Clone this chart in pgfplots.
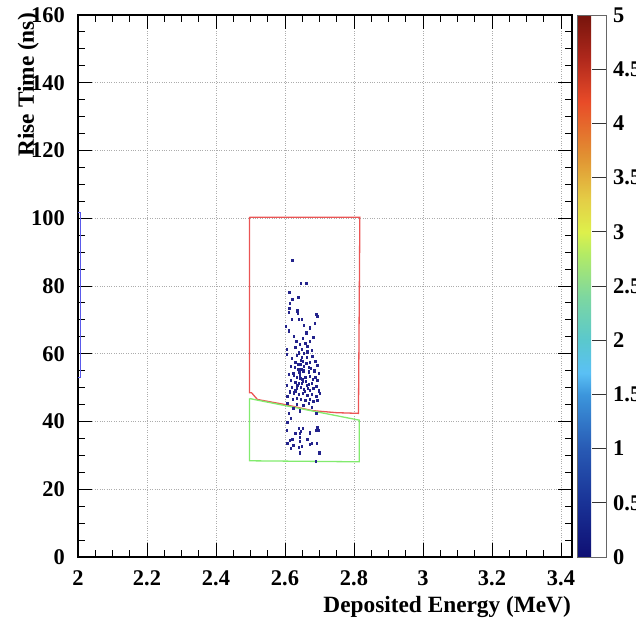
\documentclass[border=0pt]{standalone}
\usepackage{pgfplots}
\pgfplotsset{compat=1.18}
\usepackage{fontspec}
\setmainfont{Liberation Serif}
\definecolor{ptblue}{RGB}{35,35,140}
\definecolor{boxred}{RGB}{235,85,85}
\definecolor{boxgreen}{RGB}{130,235,110}
\definecolor{boxblue}{RGB}{90,90,235}
\pgfplotsset{colormap={rootpal}{
 rgb255(0pt)=(15,15,115);
 rgb255(5pt)=(25,50,150);
 rgb255(10pt)=(40,90,180);
 rgb255(15pt)=(60,150,220);
 rgb255(17pt)=(90,192,245);
 rgb255(20pt)=(90,200,205);
 rgb255(24pt)=(125,215,160);
 rgb255(28pt)=(180,235,100);
 rgb255(30pt)=(222,240,75);
 rgb255(33pt)=(228,205,70);
 rgb255(37pt)=(225,145,50);
 rgb255(42pt)=(232,75,40);
 rgb255(46pt)=(175,40,28);
 rgb255(50pt)=(118,20,12)}}
\pgfplotstableread{
x y
2.621 87.6
2.646 80.9
2.661 80.9
2.612 78.1
2.621 76.1
2.638 76.6
2.614 74.8
2.612 73.5
2.611 72.2
2.636 72.7
2.637 71.9
2.619 70.3
2.639 70.3
2.648 70.3
2.690 71.6
2.693 71.1
2.672 67.7
2.661 66.2
2.626 65.2
2.682 64.8
2.605 61.3
2.643 62.8
2.658 63.0
2.671 63.8
2.665 62.2
2.630 62.0
2.649 61.3
2.639 60.3
2.655 60.1
2.677 61.1
2.605 59.9
2.634 59.5
2.649 59.1
2.663 58.9
2.679 59.3
2.694 56.6
2.672 57.6
2.661 57.1
2.645 56.9
2.630 57.5
2.617 56.3
2.638 55.4
2.647 55.4
2.653 55.0
2.668 54.7
2.684 55.0
2.698 54.2
2.610 54.0
2.624 54.2
2.634 53.2
2.643 53.7
2.658 53.2
2.672 53.4
2.687 53.0
2.694 52.2
2.616 52.2
2.629 51.7
2.639 51.2
2.648 51.4
2.663 50.7
2.668 51.0
2.677 51.4
2.690 50.4
2.605 50.7
2.619 50.2
2.634 49.8
2.645 50.1
2.655 49.5
2.672 49.3
2.682 49.8
2.697 49.1
2.613 48.8
2.626 48.5
2.639 48.1
2.651 48.3
2.665 47.8
2.678 48.0
2.690 47.5
2.622 46.5
2.634 46.9
2.645 46.5
2.659 46.3
2.672 46.7
2.682 46.1
2.701 48.3
2.607 47.5
2.694 46.3
2.628 55.9
2.652 57.8
2.660 52.0
2.641 54.5
2.650 52.6
2.668 56.0
2.636 50.6
2.657 48.9
2.626 53.6
2.680 52.5
2.646 58.0
2.664 60.6
2.620 58.6
2.688 57.9
2.633 63.6
2.652 64.5
2.610 66.8
2.686 68.9
2.602 68.0
2.655 68.5
2.644 52.9
2.655 56.4
2.638 57.0
2.666 49.9
2.651 51.8
2.630 49.1
2.675 55.7
2.607 45.3
2.634 45.1
2.653 44.8
2.668 45.3
2.677 44.2
2.624 43.9
2.610 42.4
2.643 43.2
2.690 42.4
2.616 40.9
2.607 39.9
2.639 38.0
2.651 38.0
2.694 38.4
2.690 37.5
2.697 37.5
2.605 37.5
2.629 36.5
2.643 36.5
2.643 35.3
2.645 37.2
2.643 34.2
2.672 36.7
2.621 34.7
2.613 34.5
2.665 34.9
2.607 33.7
2.624 33.0
2.639 32.5
2.648 32.7
2.671 33.3
2.678 33.7
2.692 33.5
2.616 32.1
2.643 30.8
2.699 30.8
2.689 28.3
}\pts
\begin{document}
\begin{tikzpicture}[x=1bp,y=1bp]
\useasboundingbox (0,0) rectangle (636,624);
\begin{axis}[
 at={(78bp,67bp)}, anchor=south west,
 scale only axis, width=494bp, height=542bp,
 xmin=2, xmax=3.432, ymin=0, ymax=160,
 xtick={2,2.2,2.4,2.6,2.8,3,3.2,3.4},
 xticklabels={2,2.2,2.4,2.6,2.8,3,3.2,3.4},
 ytick={0,20,40,60,80,100,120,140,160},
 minor x tick num=3, minor y tick num=3,
 tick align=inside,
 major tick length=14bp, minor tick length=7bp,
 grid=major,
 major grid style={dotted, gray!65, line width=0.7bp},
 axis line style={line width=1.2bp},
 every tick/.style={black, line width=0.9bp},
 tick label style={font=\fontsize{22.5}{26}\selectfont\bfseries},
 /pgf/number format/assume math mode=true,
 xticklabel style={inner sep=0pt, anchor=north, yshift=-13bp},
 yticklabel style={inner sep=0pt, anchor=east, xshift=-13bp},
 xlabel={Deposited Energy (MeV)},
 ylabel={Rise Time (ns)},
 label style={font=\fontsize{23.4}{27}\selectfont\bfseries, inner sep=0pt},
 xlabel style={at={(axis description cs:0.998,-0.1033)}, anchor=base east},
 ylabel style={at={(axis description cs:-0.0892,1.0037)}, anchor=base east},
 colormap name=rootpal,
 point meta min=0, point meta max=5,
 colorbar,
 colorbar shift/.style={xshift=5bp},
 colorbar style={
   at={(parent axis.north east)}, anchor=north west,
   width=29bp,
   ytick={0,0.5,1,1.5,2,2.5,3,3.5,4,4.5,5},
   yticklabels={0,0.5,1,1.5,2,2.5,3,3.5,4,4.5,5},
   ytick pos=right, yticklabel pos=right,
   tick align=inside, major tick length=14bp,
   every tick/.style={black!80, line width=0.8bp},
   axis line style={line width=0.6bp, black!60},
   tick label style={font=\fontsize{22.5}{26}\selectfont\bfseries},
   yticklabel style={inner sep=0pt, anchor=west, xshift=7bp},
 },
]
\addplot[only marks, mark=square*, mark size=1.05bp, color=ptblue, mark options={xscale=0.7}] table {\pts};
\addplot[draw=boxred, line width=1.3bp] coordinates {
 (2.497,100.3) (2.817,100.3) (2.813,42.4) (2.75,42.6) (2.68,43.2) (2.6,45.0) (2.52,46.5) (2.503,48.5) (2.497,48.5) (2.497,100.3)};
\addplot[draw=boxgreen, line width=1.3bp] coordinates {
 (2.497,46.8) (2.52,46.3) (2.815,40.4) (2.815,28.1) (2.497,28.4) (2.497,46.8)};
\addplot[draw=boxblue, line width=1bp] coordinates {
 (2.0,53) (2.006,53) (2.006,101.7) (2.0,101.7)};
\end{axis}
\end{tikzpicture}
\end{document}
